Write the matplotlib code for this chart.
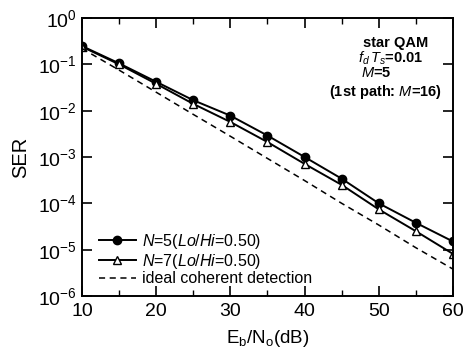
import matplotlib
matplotlib.use("Agg")
import matplotlib.pyplot as plt

plt.rcParams['font.family'] = ['Liberation Sans', 'DejaVu Sans']
plt.rcParams['mathtext.fontset'] = 'custom'
plt.rcParams['mathtext.rm'] = 'Liberation Sans'
plt.rcParams['mathtext.it'] = 'Liberation Sans:italic'
plt.rcParams['mathtext.bf'] = 'Liberation Sans:bold'

ebno = [10, 15, 20, 25, 30, 35, 40, 45, 50, 55, 60]
ser_n5 = [0.248, 0.105, 0.042, 0.0168, 0.0078, 0.0029, 0.00100, 3.4e-4, 1.0e-4, 3.8e-5, 1.5e-5]
ser_n7 = [0.240, 0.100, 0.038, 0.0140, 0.0057, 0.0021, 7.1e-4, 2.5e-4, 7.4e-5, 2.5e-5, 8.1e-6]
ser_ideal = [0.22, 0.075, 0.025, 0.0083, 0.0028, 9.3e-4, 3.1e-4, 1.0e-4, 3.4e-5, 1.1e-5, 3.8e-6]

fig = plt.figure(figsize=(4.67, 3.49), dpi=100)
ax = fig.add_axes([0.1756, 0.1519, 0.7944, 0.7965])

ax.plot(ebno, ser_n5, '-o', color='black', lw=1.4, ms=6, mfc='black',
        label=r'$N$=5($Lo/Hi$=0.50)')
ax.plot(ebno, ser_n7, '-^', color='black', lw=1.4, ms=6, mfc='white',
        label=r'$N$=7($Lo/Hi$=0.50)')
ax.plot(ebno, ser_ideal, '--', color='black', lw=1.1, dashes=(4, 3),
        label='ideal coherent detection')

ax.set_yscale('log')
ax.set_xlim(10, 60)
ax.set_ylim(1e-6, 1)
ax.set_xticks([10, 20, 30, 40, 50, 60])
ax.set_xticks([15, 25, 35, 45, 55], minor=True)
ax.set_yticks([1e-6, 1e-5, 1e-4, 1e-3, 1e-2, 1e-1, 1])
ax.yaxis.set_minor_locator(matplotlib.ticker.NullLocator())
ax.tick_params(which='both', direction='in', top=True, right=True, labelsize=14)
ax.tick_params(which='major', length=7, width=1.2)
ax.tick_params(which='minor', length=4, width=1.0)
ax.tick_params(axis='x', pad=5)
for s in ax.spines.values():
    s.set_linewidth(1.4)

ax.set_xlabel(r'E$_\mathrm{b}$/N$_\mathrm{o}$(dB)', fontsize=13.5, labelpad=6)
ax.set_ylabel('SER', fontsize=14.5, labelpad=6)

txt = dict(transform=ax.transAxes, ha='center', va='center', fontsize=10.5,
           fontweight='bold')
ax.text(0.846, 0.911, 'star QAM', **txt)
ax.text(0.833, 0.856, r'$f_d\,T_s$=0.01', **txt)
ax.text(0.792, 0.802, r'$M$=5', **txt)
ax.text(0.817, 0.735, r'(1st path: $M$=16)', **txt)

ax.legend(loc='lower left', frameon=False, fontsize=11.5, handlelength=2.3,
          borderaxespad=0.2, labelspacing=0.05, handletextpad=0.4,
          bbox_to_anchor=(0.02, 0.0))

fig.savefig('out.png', dpi=100)
